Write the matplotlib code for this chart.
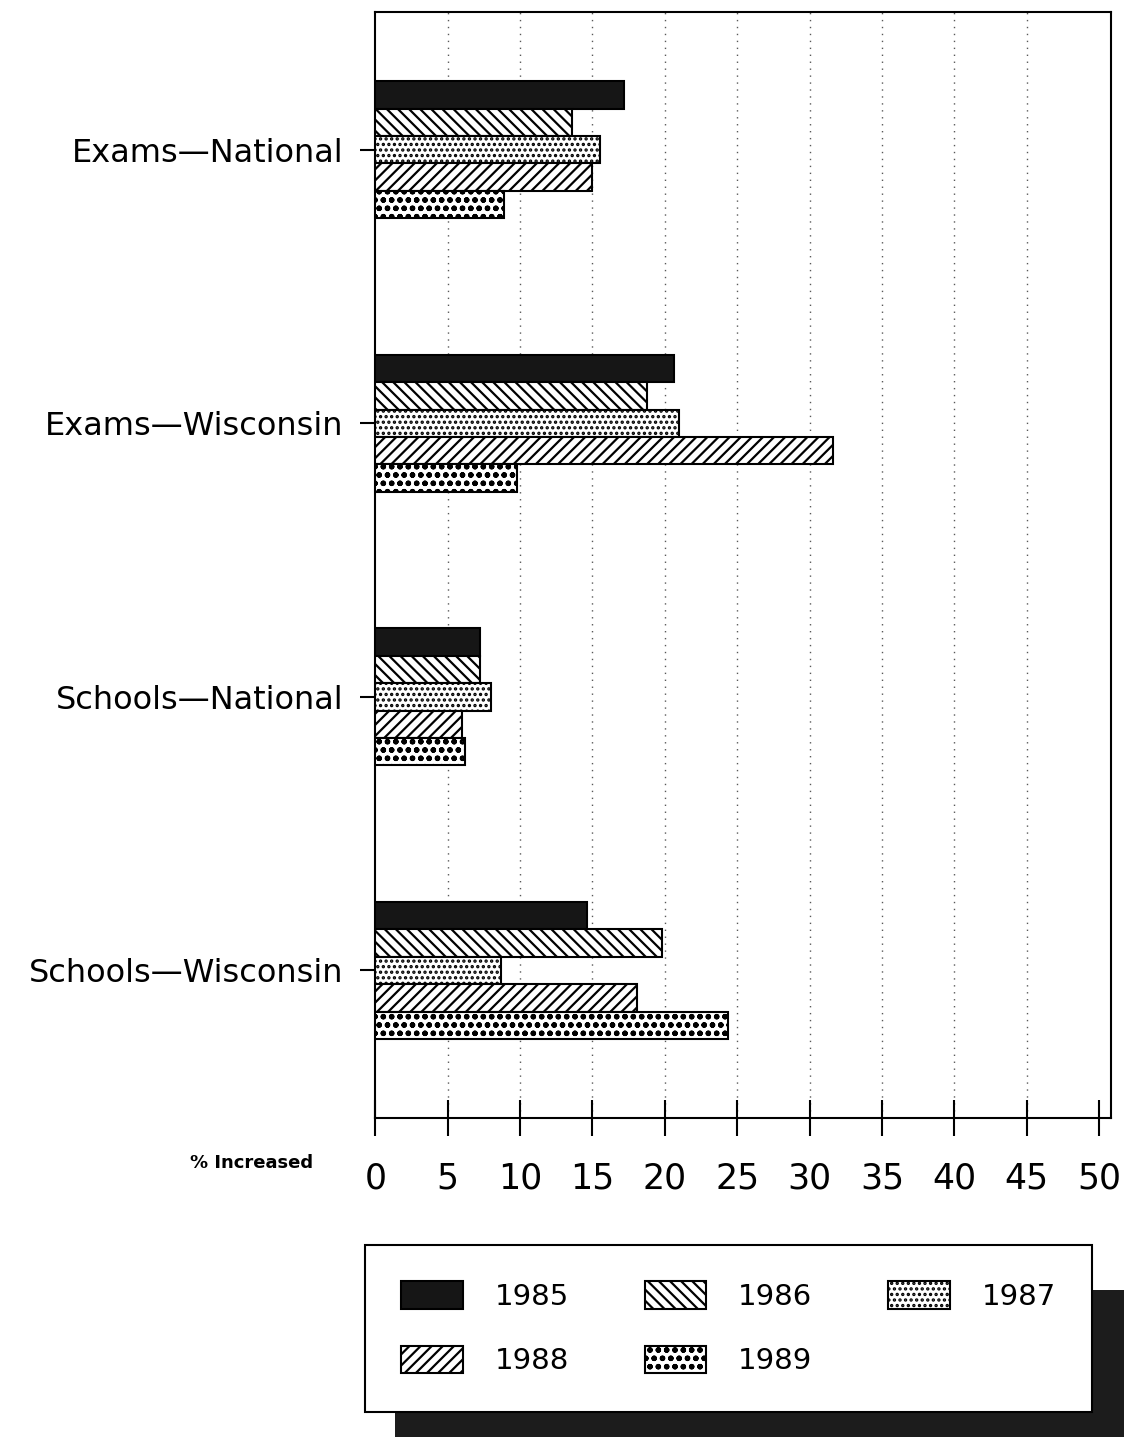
import numpy as np
import matplotlib.pyplot as plt
from matplotlib.patches import Rectangle

plt.rcParams['hatch.linewidth'] = 1.6

# data (% increased)
categories = ['Exams—National', 'Exams—Wisconsin', 'Schools—National', 'Schools—Wisconsin']
years = ['1985', '1986', '1987', '1988', '1989']
v1985 = [17.2, 20.6, 7.2, 14.6]
v1986 = [13.6, 18.8, 7.2, 19.8]
v1987 = [15.5, 21.0, 8.0, 8.7]
v1988 = [15.0, 31.6, 6.0, 18.1]
v1989 = [8.9, 9.8, 6.2, 24.4]
series = [v1985, v1986, v1987, v1988, v1989]

faces = ['#161616', 'white', 'white', 'white', 'white']
hatches = ['', '\\\\\\', '...', '///', 'oo']

fig = plt.figure(figsize=(11.24, 14.41), dpi=100)
ax = fig.add_axes([0.334, 0.224, 0.654, 0.768])

ypos = np.arange(len(categories))
h = 0.1
bars = []
for i, vals in enumerate(series):
    b = ax.barh(ypos + (i - 2) * h, vals, height=h, color=faces[i],
                edgecolor='black', linewidth=1.5, hatch=hatches[i],
                label=years[i], zorder=3)
    bars.append(b)

ax.set_xlim(0, 50.8)
ax.set_ylim(3.54, -0.505)
ax.set_xticks(np.arange(0, 51, 5))
ax.set_yticks(ypos)
ax.set_yticklabels(categories)

for x in range(5, 50, 5):
    ax.axvline(x, color='0.35', linestyle=(0, (1, 4)), linewidth=1.0, zorder=1)

ax.tick_params(axis='x', direction='inout', length=26, width=1.5, pad=18,
               labelsize=25)
ax.tick_params(axis='y', direction='out', length=11, width=1.5, pad=12,
               labelsize=23)
for s in ax.spines.values():
    s.set_linewidth(1.5)

fig.text(0.169, 0.193, '% Increased', fontsize=13, fontweight='bold',
         va='center', ha='left')

# shadow behind the legend box
fig.patches.append(Rectangle((0.351, 0.003), 0.649, 0.102,
                             transform=fig.transFigure, facecolor='#1c1c1c',
                             edgecolor='none', zorder=1))

order = [0, 3, 1, 4, 2]
leg = fig.legend([bars[i] for i in order], [years[i] for i in order],
                 loc='upper left', bbox_to_anchor=(0.3247, 1 - 1245 / 1441),
                 borderaxespad=0, ncol=3, fontsize=21, handlelength=2.1,
                 handleheight=1.05, handletextpad=1.1, columnspacing=2.6,
                 labelspacing=1.2, borderpad=1.25, fancybox=False,
                 framealpha=1, edgecolor='black')
leg.get_frame().set_linewidth(1.5)
leg.set_zorder(5)

plt.savefig('out.png', dpi=100)
